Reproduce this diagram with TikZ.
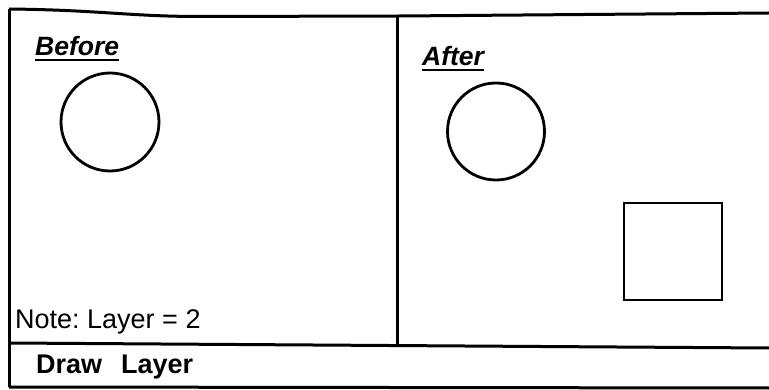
\documentclass[tikz,border=0pt]{standalone}
\usepackage{fontspec}
\setmainfont{Liberation Sans}
\frenchspacing
\begin{document}
\begin{tikzpicture}[x=1pt,y=-1pt,
  frame/.style={line width=3pt},
  figline/.style={line width=2.8pt},
  txt/.style={inner sep=0pt,anchor=base west,font=\fontsize{27}{30}\selectfont},
  ttl/.style={inner sep=0pt,anchor=base west,font=\fontsize{26.5}{30}\selectfont\bfseries\itshape},
  uline/.style={line width=2.4pt}]
\useasboundingbox (0,0) rectangle (769,390);
% frame
\coordinate (tl) at (9,9);
\coordinate (bl) at (9,387);
\draw[frame] (tl) .. controls (100,10) and (130,16.5) .. (200,16.5) -- (400,16) -- (769,13);
\draw[frame] (tl) -- (bl);
\draw[frame] (bl) -- (769,388);
\draw[frame] (9,343) -- (769,348);
\draw[frame] (397,16) -- (397,345);
% titles
\node[ttl] (bef) at (35,56) {Before};
\draw[uline] ([yshift=-4pt]bef.base west) -- ([yshift=-4pt]bef.base east);
\node[ttl] (aft) at (422,66) {After};
\draw[uline] ([yshift=-4pt]aft.base west) -- ([yshift=-4pt]aft.base east);
% shapes
\draw[figline] (110,122) circle[radius=49];
\draw[figline] (496,131.5) circle[radius=48.5];
\draw[figline] (624,203) rectangle (722,300);
% texts
\node[txt] (note) at (15,329) {Note: Layer = 2};
\node[txt,font=\fontsize{27}{30}\selectfont\bfseries] (dl) at (36,373) {Draw\hspace{19pt}Layer};
\end{tikzpicture}
\end{document}
